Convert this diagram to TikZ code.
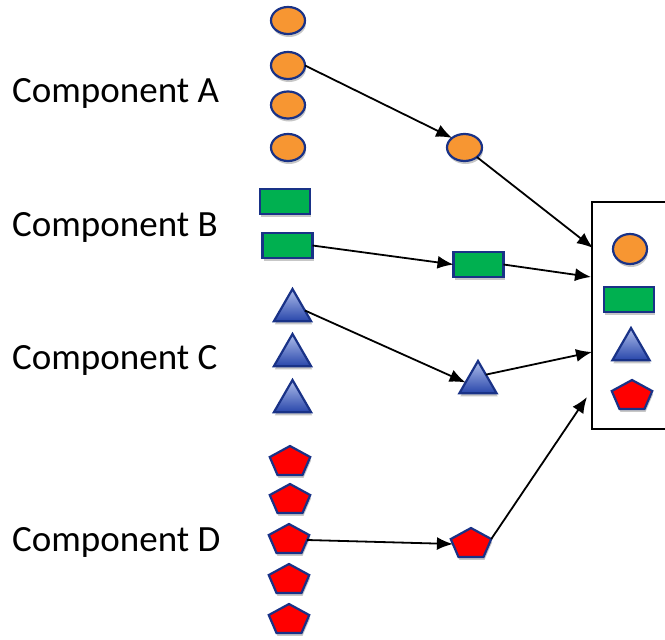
\documentclass[tikz,border=0pt]{standalone}
\usepackage{fontspec}
\setmainfont{Carlito}
\usetikzlibrary{shapes.geometric,shadows,arrows.meta}
\definecolor{ornge}{RGB}{247,150,50}
\definecolor{grn}{RGB}{0,176,80}
\definecolor{rd}{RGB}{255,0,0}
\definecolor{edgeblue}{RGB}{25,50,135}
\definecolor{tritop}{RGB}{175,190,235}
\definecolor{tribot}{RGB}{40,70,170}
\begin{document}
\begin{tikzpicture}[x=1pt,y=-1pt,
  shp/.style={draw=edgeblue, line width=2.2pt, inner sep=0pt, outer sep=0pt,
    drop shadow={shadow xshift=1pt, shadow yshift=-3pt, opacity=0.22, fill=black}},
  oval/.style={shp, ellipse, fill=ornge, minimum width=34pt, minimum height=27pt},
  gbox/.style={shp, rectangle, fill=grn, minimum width=50pt, minimum height=25pt},
  tri/.style={shp, regular polygon, regular polygon sides=3, minimum size=43pt,
    top color=tritop, bottom color=tribot},
  pent/.style={shp, regular polygon, regular polygon sides=5, minimum size=32pt,
    fill=rd, xscale=1.33},
  lbl/.style={font=\fontsize{37}{40}\selectfont, anchor=base west, inner sep=0pt},
  conn/.style={line width=1.8pt, -{Latex[length=16pt,width=13pt]}}
]
\useasboundingbox (0,0) rectangle (665,640);

% labels
\node[lbl] (la) at (12,102) {Component A};
\node[lbl] (lb) at (12,236) {Component B};
\node[lbl] (lc) at (12,369) {Component C};
\node[lbl] (ld) at (12,551) {Component D};

% left column
\node[oval] (a1) at (288,20.5) {};
\node[oval] (a2) at (288,65.5) {};
\node[oval] (a3) at (288,105) {};
\node[oval] (a4) at (288,147.5) {};

\node[gbox] (b1) at (285,201.5) {};
\node[gbox] (b2) at (287.5,245.5) {};

\node[tri] (c1) at (292.5,310.5) {};
\node[tri] (c2) at (292.5,355.5) {};
\node[tri] (c3) at (292.5,401.5) {};

\node[pent] (d1) at (290,462) {};
\node[pent] (d2) at (290,500) {};
\node[pent] (d3) at (289,540) {};
\node[pent] (d4) at (289,580) {};
\node[pent] (d5) at (289,620) {};

% middle column
\node[oval, minimum width=35pt] (ma) at (464.5,147.5) {};
\node[gbox] (mb) at (478.5,264.5) {};
\node[tri] (mc) at (478,382.5) {};
\node[pent] (md) at (471,544) {};

% right box
\draw[line width=1.6pt] (665,202) -| (592,429) -- (665,429);
\node[oval, minimum height=30pt] (ra) at (630,249) {};
\node[gbox] (rb) at (629,299.5) {};
\node[tri] (rc) at (631,349.5) {};
\node[pent] (rd) at (632,396) {};

\coordinate (t1) at (593,248);
\coordinate (t2) at (591,277);
\coordinate (t3) at (592,352);
\coordinate (t4) at (587,397);

% connectors
\draw[conn] (a2.east) -- (ma.north west);
\draw[conn] (b2.east) -- (mb.west);
\draw[conn] (c1.east) -- (mc.west);
\draw[conn] (d3.east) -- (md.west);

\draw[conn] (ma.south east) -- (t1);
\draw[conn] (mb.east) -- (t2);
\draw[conn] (mc.north east) -- (t3);
\draw[conn] (md.corner 5) -- (t4);
\end{tikzpicture}
\end{document}
